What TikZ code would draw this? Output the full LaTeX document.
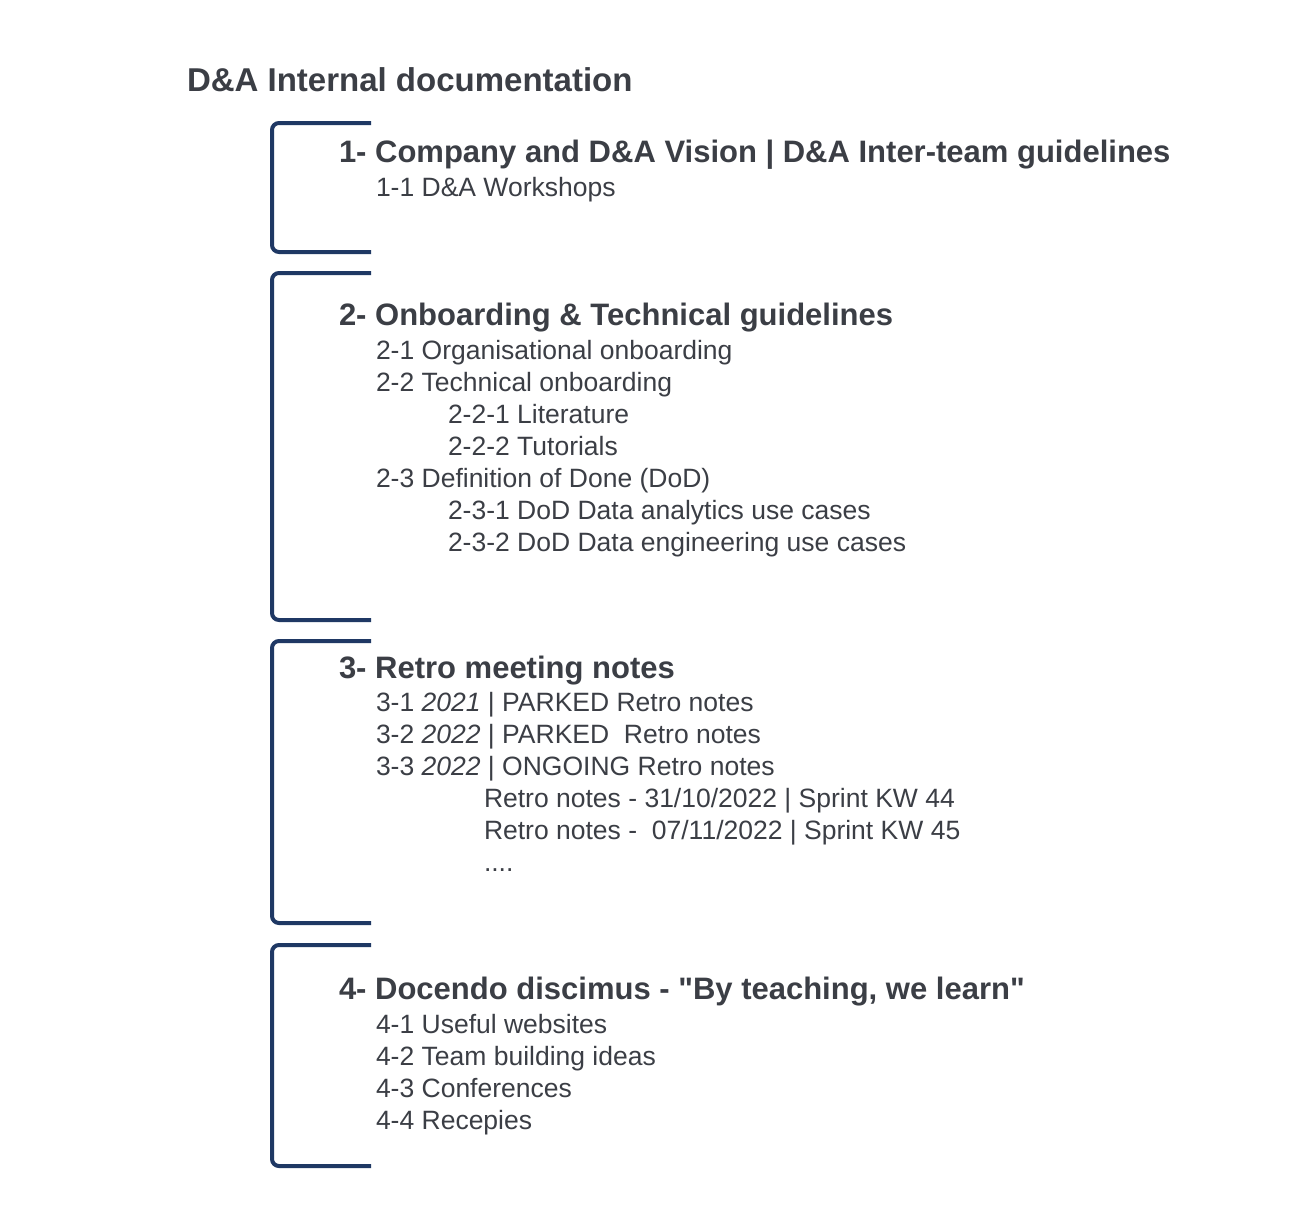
\documentclass[tikz,border=0pt]{standalone}
\usepackage{fontspec}
\setmainfont{Liberation Sans}
\begin{document}
\definecolor{ink}{HTML}{3B3E45}
\definecolor{navy}{HTML}{1F3864}
\begin{tikzpicture}[x=1pt,y=-1pt,
  txt/.style={anchor=base west,inner sep=0pt,outer sep=0pt,text=ink},
  title/.style={txt,font=\fontsize{33}{38}\selectfont\bfseries},
  head/.style={txt,font=\fontsize{31}{36}\selectfont\bfseries},
  item/.style={txt,font=\fontsize{26.5}{30}\selectfont},
  bracket/.style={draw=navy,line width=4pt,rounded corners=7pt}]
  \useasboundingbox[fill=white] (0,0) rectangle (1313,1207);

  % title
  \node[title] (title) at (187,91.5) {D\&A Internal documentation};

  % section brackets
  \draw[bracket] (371,123) -- (272,123) -- (272,252) -- (371,252);
  \draw[bracket] (371,273) -- (272,273) -- (272,620) -- (371,620);
  \draw[bracket] (371,641) -- (272,641) -- (272,923) -- (371,923);
  \draw[bracket] (371,945) -- (272,945) -- (272,1166) -- (371,1166);

  % section 1
  \node[head] (h1) at (339,162.5) {1- Company and D\&A Vision | D\&A Inter-team guidelines};
  \node[item] (i11) at (376,196) {1-1 D\&A Workshops};

  % section 2
  \node[head] (h2) at (339,325.5) {2- Onboarding \& Technical guidelines};
  \node[item] (i21) at (376,359) {2-1 Organisational onboarding};
  \node[item] (i22) at (376,391) {2-2 Technical onboarding};
  \node[item] (i221) at (448,423) {2-2-1 Literature};
  \node[item] (i222) at (448,455) {2-2-2 Tutorials};
  \node[item] (i23) at (376,487) {2-3 Definition of Done (DoD)};
  \node[item] (i231) at (448,519) {2-3-1 DoD Data analytics use cases};
  \node[item] (i232) at (448,551) {2-3-2 DoD Data engineering use cases};

  % section 3
  \node[head] (h3) at (339,678) {3- Retro meeting notes};
  \node[item] (i31) at (376,711) {3-1 \textit{2021} | PARKED Retro notes};
  \node[item] (i32) at (376,743) {3-2 \textit{2022} | PARKED~ Retro notes};
  \node[item] (i33) at (376,775) {3-3 \textit{2022} | ONGOING Retro notes};
  \node[item] (r1) at (484,807) {Retro notes - 31/10/2022 | Sprint KW 44};
  \node[item] (r2) at (484,839) {Retro notes -~ 07/11/2022 | Sprint KW 45};
  \node[item] (r3) at (484,871) {....};

  % section 4
  \node[head] (h4) at (339,999) {4- Docendo discimus - \textquotedbl By teaching, we learn\textquotedbl};
  \node[item] (i41) at (376,1033) {4-1 Useful websites};
  \node[item] (i42) at (376,1065) {4-2 Team building ideas};
  \node[item] (i43) at (376,1097) {4-3 Conferences};
  \node[item] (i44) at (376,1129) {4-4 Recepies};
\end{tikzpicture}
\end{document}
